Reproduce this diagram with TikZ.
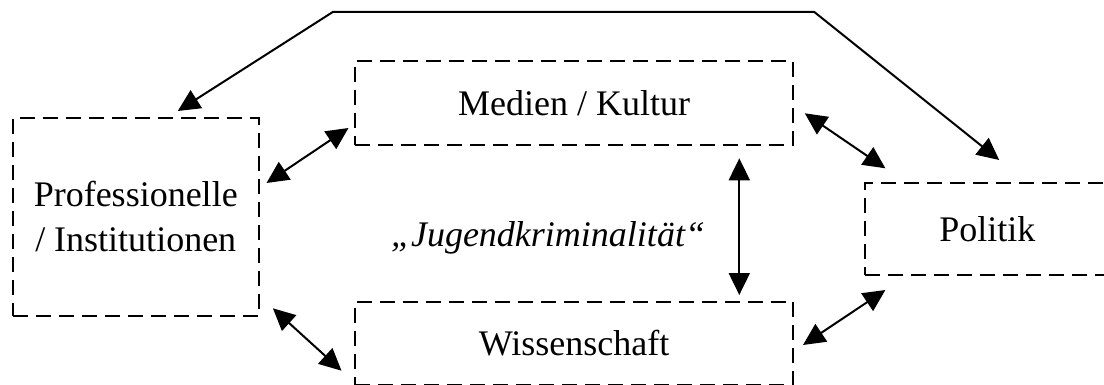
\documentclass[tikz,border=0pt]{standalone}
\usepackage{fontspec}
\setmainfont{Liberation Serif}
\usetikzlibrary{arrows.meta}

\tikzset{
  area/.style={draw=black, line width=2.2pt, dash pattern=on 15pt off 8pt,
    inner sep=0pt, align=center, font=\fontsize{36}{45}\selectfont},
  lbl/.style={inner sep=0pt, font=\fontsize{36}{45}\selectfont},
  link/.style={line width=2pt, {Triangle[length=22pt,width=21pt]}-{Triangle[length=22pt,width=21pt]}},
}

\begin{document}
\begin{tikzpicture}[x=1pt, y=-1pt]
  \useasboundingbox (0,0) rectangle (1104,385);
  \clip (0,0) rectangle (1104,385);

  % fields of discourse
  \node[area, minimum width=246pt, minimum height=197.4pt] (prof) at (135.75,217)
       {Professionelle\\/ Institutionen};
  \node[area, minimum width=438.2pt, minimum height=84pt] (medien) at (574.1,103)
       {Medien / Kultur};
  \node[area, minimum width=438.2pt, minimum height=83.3pt] (wiss) at (574.1,343.35)
       {Wissenschaft};
  \node[area, minimum width=245.3pt, minimum height=92.3pt] (pol) at (987.35,228.85)
       {Politik};

  % central topic
  \node[lbl, anchor=base] (topic) at (548,247) {\itshape „Jugendkriminalität“};

  % arrow end points
  \coordinate (t1) at (177.8,111);
  \coordinate (t2) at (332.8,12);
  \coordinate (t3) at (814.3,12);
  \coordinate (t4) at (999.2,160);
  \coordinate (pm1) at (266.5,183);
  \coordinate (pm2) at (348.5,128);
  \coordinate (mp1) at (804.8,113.3);
  \coordinate (mp2) at (885.4,168.3);
  \coordinate (mw1) at (739.3,158.3);
  \coordinate (mw2) at (739.3,295);
  \coordinate (pw1) at (272.9,308.3);
  \coordinate (pw2) at (341.5,370.7);
  \coordinate (wp1) at (803,345);
  \coordinate (wp2) at (885.4,290);

  % connections
  \draw[link] (t1) -- (t2) -- (t3) -- (t4);
  \draw[link] (pm1) -- (pm2);
  \draw[link] (mp1) -- (mp2);
  \draw[link] (mw1) -- (mw2);
  \draw[link] (pw1) -- (pw2);
  \draw[link] (wp1) -- (wp2);
\end{tikzpicture}
\end{document}
